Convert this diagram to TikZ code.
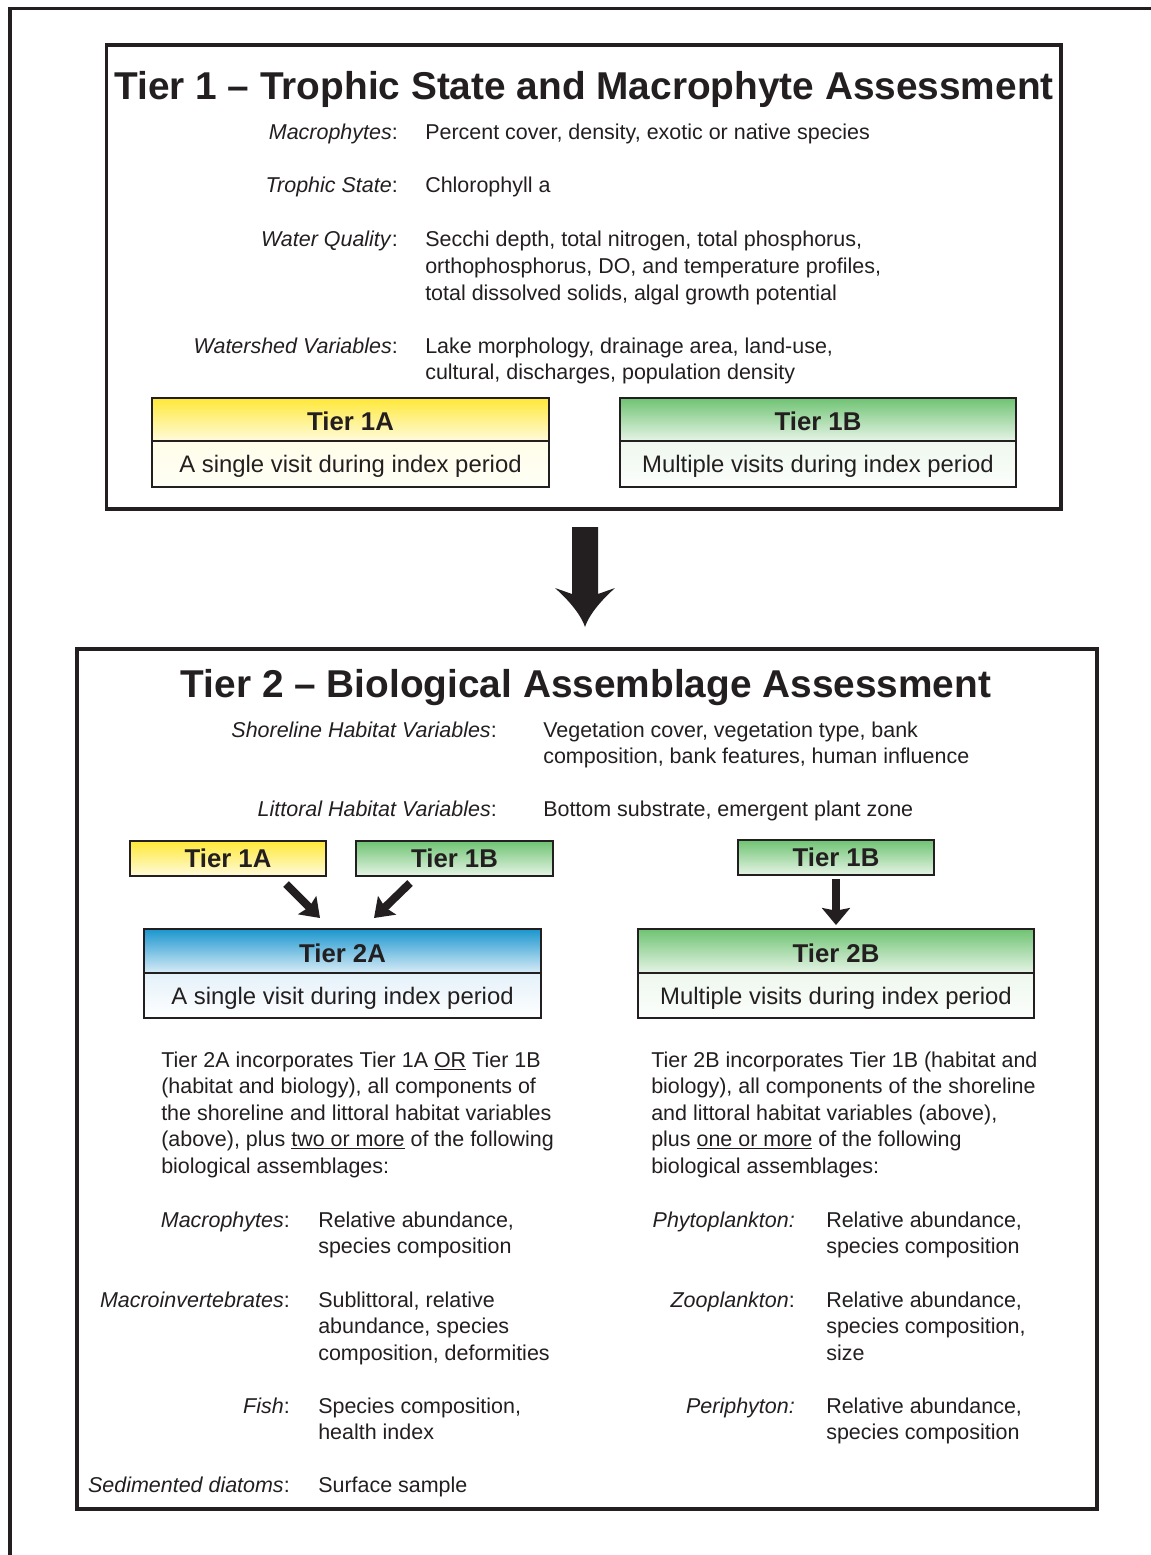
\documentclass[tikz,border=0pt]{standalone}
\usepackage{fontspec}
\setmainfont{Liberation Sans}
\usetikzlibrary{arrows.meta,calc}
\definecolor{ink}{HTML}{231F20}
\definecolor{yelTop}{HTML}{FFE838}
\definecolor{yelBot}{HTML}{FFFBDC}
\definecolor{yelLow}{HTML}{FFFDE8}
\definecolor{yelLowB}{HTML}{FFFEF6}
\definecolor{grnTop}{HTML}{6FC373}
\definecolor{grnBot}{HTML}{E6F4E6}
\definecolor{grnLow}{HTML}{EEF7EE}
\definecolor{grnLowB}{HTML}{FCFEFC}
\definecolor{bluTop}{HTML}{1B96CE}
\definecolor{bluBot}{HTML}{D8ECF7}
\definecolor{bluLow}{HTML}{E4F1F9}
\definecolor{bluLowB}{HTML}{FFFFFF}
\newcommand\mlines[1]{\begin{tabular}[t]{@{}l@{}}#1\end{tabular}}
\tikzset{
  frame/.style={draw=ink, line width=2.6pt},
  bigbox/.style={draw=ink, line width=2.6pt, inner sep=0pt, outer sep=0pt},
  boxline/.style={draw=ink, line width=1.5pt, inner sep=0pt, outer sep=0pt},
  hdr/.style={boxline, font=\bfseries\fontsize{19.3}{22}\selectfont, text=ink, text height=13.8pt, text depth=0pt},
  bighdr/.style={hdr, text height=16.8pt},
  sub/.style={boxline, font=\fontsize{17.9}{21}\selectfont, text=ink, text height=12.8pt, text depth=0pt},
  title/.style={font=\bfseries\fontsize{29.1}{34}\selectfont, text=ink, inner sep=0pt},
  body/.style={font=\fontsize{16.1}{19.9}\selectfont, text=ink, inner sep=0pt},
  lab/.style={body, anchor=base east},
  val/.style={body, anchor=base west},
  yelhead/.style={top color=yelTop, bottom color=yelBot},
  yelbody/.style={top color=yelLow, bottom color=yelLowB},
  grnhead/.style={top color=grnTop, bottom color=grnBot},
  grnbody/.style={top color=grnLow, bottom color=grnLowB},
  bluhead/.style={top color=bluTop, bottom color=bluBot},
  blubody/.style={top color=bluLow, bottom color=bluLowB},
  smallarrow/.style={draw=ink, line width=6pt, -{Stealth[length=13.5pt, width=19pt, inset=2pt]}},
  downarrow/.style={draw=ink, line width=6pt, -{Stealth[length=12.75pt, width=21pt, inset=2pt]}}
}
\begin{document}
\begin{tikzpicture}[x=0.75pt,y=-0.75pt]
\useasboundingbox (0,0) rectangle (1151,1555);
\fill[white] (0,0) rectangle (1151,1555);
% outer frame (only top and left edges visible)
\draw[frame] (10,1575) -- (10,8.5) -- (1175,8.5);

% ---------------- Tier 1 ----------------
\node[bigbox, minimum width=715.9pt, minimum height=348pt] (tier1) at (583.75,277) {};
\node[title, anchor=base] (t1title) at (584,100) {Tier 1 \textendash\ Trophic State and Macrophyte Assessment};

\node[lab] (l1a) at (398,140) {\textit{Macrophytes}:};
\node[val] (v1a) at (425,140) {Percent cover, density, exotic or native species};
\node[lab] (l1b) at (398,193) {\textit{Trophic State}:};
\node[val] (v1b) at (425,193) {Chlorophyll a};
\node[lab] (l1c) at (398,247) {\textit{Water Quality}:};
\node[val] (v1c) at (425,247) {\mlines{Secchi depth, total nitrogen, total phosphorus,\\orthophosphorus, DO, and temperature profiles,\\total dissolved solids, algal growth potential}};
\node[lab] (l1d) at (398,353) {\textit{Watershed Variables}:};
\node[val] (v1d) at (425,353) {\mlines{Lake morphology, drainage area, land-use,\\cultural, discharges, population density}};

\node[bighdr, yelhead, minimum width=297.75pt, minimum height=32.25pt] (t1ah) at (350.5,419.5) {Tier 1A};
\node[sub, yelbody, minimum width=297.75pt, minimum height=34.5pt] (t1ab) at (350.5,464) {A single visit during index period};
\node[bighdr, grnhead, minimum width=297pt, minimum height=32.25pt] (t1bh) at (818,419.5) {Tier 1B};
\node[sub, grnbody, minimum width=297pt, minimum height=34.5pt] (t1bb) at (818,464) {Multiple visits during index period};

% ---------------- big arrow ----------------
\coordinate (bigtop) at ($(tier1.south)+(1.25,18)$);
\fill[ink, shift={(bigtop)}] (-13,0) -- (13,0) -- (13,67) -- (30,61)
  .. controls (20,70) and (5,85) .. (0,100)
  .. controls (-5,85) and (-20,70) .. (-30,61) -- (-13,67) -- cycle;

% ---------------- Tier 2 ----------------
\node[bigbox, minimum width=765pt, minimum height=645pt] (tier2) at (587,1079) {};
\node[title, anchor=base] (t2title) at (586,697) {Tier 2 \textendash\ Biological Assemblage Assessment};

\node[lab] (l2a) at (497,737) {\textit{Shoreline Habitat Variables}:};
\node[val] (v2a) at (543,737) {\mlines{Vegetation cover, vegetation type, bank\\composition, bank features, human influence}};
\node[lab] (l2b) at (497,816) {\textit{Littoral Habitat Variables}:};
\node[val] (v2b) at (543,816) {Bottom substrate, emergent plant zone};

\node[hdr, yelhead, minimum width=147pt, minimum height=26.25pt] (s1a) at (228,858.5) {Tier 1A};
\node[hdr, grnhead, minimum width=147.75pt, minimum height=26.25pt] (s1b) at (454.5,858.5) {Tier 1B};
\node[hdr, grnhead, minimum width=147pt, minimum height=26.25pt] (r1b) at (836,857.5) {Tier 1B};

\node[bighdr, bluhead, minimum width=297.75pt, minimum height=33pt] (t2ah) at (342.5,951) {Tier 2A};
\node[sub, blubody, minimum width=297.75pt, minimum height=33.75pt] (t2ab) at (342.5,995.5) {A single visit during index period};
\node[bighdr, grnhead, minimum width=297pt, minimum height=33pt] (t2bh) at (836,951) {Tier 2B};
\node[sub, grnbody, minimum width=297pt, minimum height=33.75pt] (t2bb) at (836,995.5) {Multiple visits during index period};

\coordinate (a1s) at (286,884);
\coordinate (a1e) at (320,918);
\coordinate (a2s) at (410,883);
\coordinate (a2e) at (374,918);
\coordinate (a3s) at (836,879);
\coordinate (a3e) at (836,925);
\draw[smallarrow] (a1s) -- (a1e);
\draw[smallarrow] (a2s) -- (a2e);
\draw[downarrow] (a3s) -- (a3e);

\node[val] (p2a) at (161,1067) {\mlines{Tier 2A incorporates Tier 1A \underline{OR} Tier 1B\\(habitat and biology), all components of\\the shoreline and littoral habitat variables\\(above), plus \underline{two or more} of the following\\biological assemblages:}};
\node[val] (p2b) at (651,1067) {\mlines{Tier 2B incorporates Tier 1B (habitat and\\biology), all components of the shoreline\\and littoral habitat variables (above),\\plus \underline{one or more} of the following\\biological assemblages:}};

\node[lab] (la1) at (290,1227) {\textit{Macrophytes}:};
\node[val] (va1) at (318,1227) {\mlines{Relative abundance,\\species composition}};
\node[lab] (la2) at (290,1307) {\textit{Macroinvertebrates}:};
\node[val] (va2) at (318,1307) {\mlines{Sublittoral, relative\\abundance, species\\composition, deformities}};
\node[lab] (la3) at (290,1413) {\textit{Fish}:};
\node[val] (va3) at (318,1413) {\mlines{Species composition,\\health index}};
\node[lab] (la4) at (290,1492) {\textit{Sedimented diatoms}:};
\node[val] (va4) at (318,1492) {Surface sample};

\node[lab] (lb1) at (795,1227) {\textit{Phytoplankton:}};
\node[val] (vb1) at (826,1227) {\mlines{Relative abundance,\\species composition}};
\node[lab] (lb2) at (795,1307) {\textit{Zooplankton}:};
\node[val] (vb2) at (826,1307) {\mlines{Relative abundance,\\species composition,\\size}};
\node[lab] (lb3) at (795,1413) {\textit{Periphyton:}};
\node[val] (vb3) at (826,1413) {\mlines{Relative abundance,\\species composition}};
\end{tikzpicture}
\end{document}
